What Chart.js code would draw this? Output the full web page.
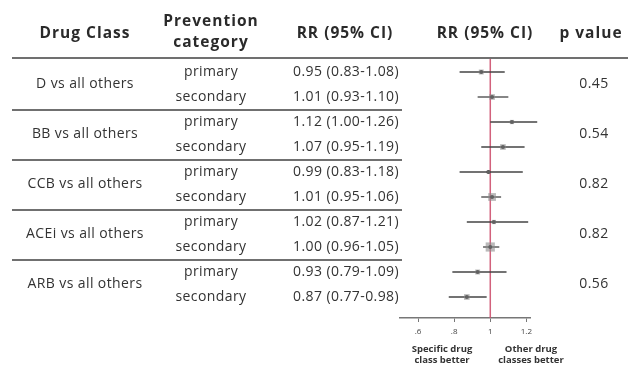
<!DOCTYPE html>
<html><head><meta charset="utf-8">
<script src="https://cdn.jsdelivr.net/npm/chart.js@4"></script>
<style>html,body{margin:0;padding:0;background:#fff}canvas{display:block}</style>
</head><body>
<canvas id="c" width="628" height="365"></canvas>
<script>
// ---- data ----
const drugClasses = ["D vs all others", "BB vs all others", "CCB vs all others", "ACEi vs all others", "ARB vs all others"];
const preventionCategories = ["primary", "secondary", "primary", "secondary", "primary", "secondary", "primary", "secondary", "primary", "secondary"];
const rrValues = [0.95, 1.01, 1.12, 1.07, 0.99, 1.01, 1.02, 1.00, 0.93, 0.87];
const ciLower  = [0.83, 0.93, 1.00, 0.95, 0.83, 0.95, 0.87, 0.96, 0.79, 0.77];
const ciUpper  = [1.08, 1.10, 1.26, 1.19, 1.18, 1.06, 1.21, 1.05, 1.09, 0.98];
const pValues = ["0.45", "0.54", "0.82", "0.82", "0.56"];
const studyWeights = [3.5, 4, 3, 4, 2.5, 5.5, 3, 6.5, 3.5, 4];
const xTickValues = [0.6, 0.8, 1, 1.2];
const xTickLabels = [".6", ".8", "1", "1.2"];
const headers = ["Drug Class", ["Prevention", "category"], "RR (95% CI)", "RR (95% CI)", "p value"];
const footerLeft = ["Specific drug", "class better"];
const footerRight = ["Other drug", "classes better"];

const rowIdx = rrValues.map((_, i) => i);
const rrText = rrValues.map((v, i) => v.toFixed(2) + " (" + ciLower[i].toFixed(2) + "-" + ciUpper[i].toFixed(2) + ")");

const FONT = "'Open Sans', Lato, sans-serif";
const tablePlugin = {
  id: 'forestTable',
  beforeDatasetsDraw(chart) {
    const {ctx, scales: {x, y}, chartArea} = chart;
    ctx.save();
    const x1 = x.getPixelForValue(1);
    ctx.strokeStyle = 'rgba(205,80,110,0.9)';
    ctx.lineWidth = 1.5;
    ctx.beginPath(); ctx.moveTo(x1, chartArea.top); ctx.lineTo(x1, chartArea.bottom); ctx.stroke();
    ctx.strokeStyle = '#444';
    ctx.lineWidth = 1.3;
    rowIdx.forEach(i => {
      const py = y.getPixelForValue(i);
      ctx.beginPath();
      ctx.moveTo(x.getPixelForValue(ciLower[i]), py);
      ctx.lineTo(x.getPixelForValue(ciUpper[i]), py);
      ctx.stroke();
    });
    ctx.restore();
  },
  afterDraw(chart) {
    const {ctx, scales: {x, y}, chartArea} = chart;
    ctx.save();
    ctx.strokeStyle = '#707070';
    ctx.lineWidth = 2;
    ctx.beginPath(); ctx.moveTo(12, chartArea.top); ctx.lineTo(628, chartArea.top); ctx.stroke();
    for (let g = 1; g < drugClasses.length; g++) {
      const py = Math.round(y.getPixelForValue(2 * g - 0.5));
      ctx.beginPath(); ctx.moveTo(12, py); ctx.lineTo(402, py); ctx.stroke();
    }
    ctx.fillStyle = '#2a2a2a';
    ctx.textBaseline = 'middle';
    ctx.textAlign = 'center';
    ctx.font = "bold 15.5px " + FONT;
    ctx.letterSpacing = '1px';
    ctx.fillText(headers[0], 85, 34);
    ctx.fillText(headers[1][0], 211, 22);
    ctx.fillText(headers[1][1], 211, 43);
    ctx.fillText(headers[2], 345, 34);
    ctx.fillText(headers[3], 485, 34);
    ctx.fillText(headers[4], 591, 34);
    ctx.fillStyle = '#333';
    ctx.font = "14px " + FONT;
    ctx.letterSpacing = '0.4px';
    drugClasses.forEach((name, g) => {
      const py = y.getPixelForValue(2 * g + 0.5);
      ctx.textAlign = 'center';
      ctx.fillText(name, 85, py);
      ctx.fillText(pValues[g], 594, py);
    });
    rowIdx.forEach(i => {
      const py = y.getPixelForValue(i);
      ctx.textAlign = 'center';
      ctx.fillText(preventionCategories[i], 211, py);
      ctx.textAlign = 'right';
      ctx.fillText(rrText[i], 399, py);
    });
    ctx.textAlign = 'center';
    ctx.fillStyle = '#333';
    ctx.font = "bold 9.5px " + FONT;
    ctx.letterSpacing = '0px';
    ctx.fillText(footerLeft[0], 442, 349);
    ctx.fillText(footerLeft[1], 442, 360);
    ctx.fillText(footerRight[0], 531, 349);
    ctx.fillText(footerRight[1], 531, 360);
    ctx.restore();
  }
};

new Chart(document.getElementById('c'), {
  type: 'scatter',
  data: {
    datasets: [
      {
        data: rowIdx.map(i => ({x: rrValues[i], y: i})),
        pointStyle: 'rect',
        pointRadius: studyWeights,
        pointHoverRadius: studyWeights,
        backgroundColor: 'rgba(140,140,140,0.6)',
        borderWidth: 0,
        clip: false
      },
      {
        data: rowIdx.map(i => ({x: rrValues[i], y: i})),
        pointStyle: 'circle',
        pointRadius: 2,
        backgroundColor: '#222',
        borderWidth: 0,
        clip: false
      }
    ]
  },
  plugins: [tablePlugin],
  options: {
    responsive: false,
    animation: false,
    devicePixelRatio: 1,
    layout: {padding: {left: 400, right: 98, top: 58, bottom: 0}},
    plugins: {legend: {display: false}, tooltip: {enabled: false}},
    scales: {
      x: {
        type: 'linear',
        min: 0.5, max: 1.22,
        afterBuildTicks: s => { s.ticks = xTickValues.map(v => ({value: v})); },
        afterFit: s => { s.height = 47; },
        ticks: {
          callback: (v) => xTickLabels[xTickValues.indexOf(v)],
          font: {size: 8, family: FONT},
          color: '#444',
          padding: 5,
          maxRotation: 0
        },
        grid: {drawOnChartArea: false, drawTicks: true, tickLength: 4, color: '#777'},
        border: {display: true, color: '#777', width: 1.5}
      },
      y: {
        type: 'linear',
        reverse: true,
        min: -0.56, max: 9.84,
        display: false
      }
    }
  }
});
</script>
</body></html>
